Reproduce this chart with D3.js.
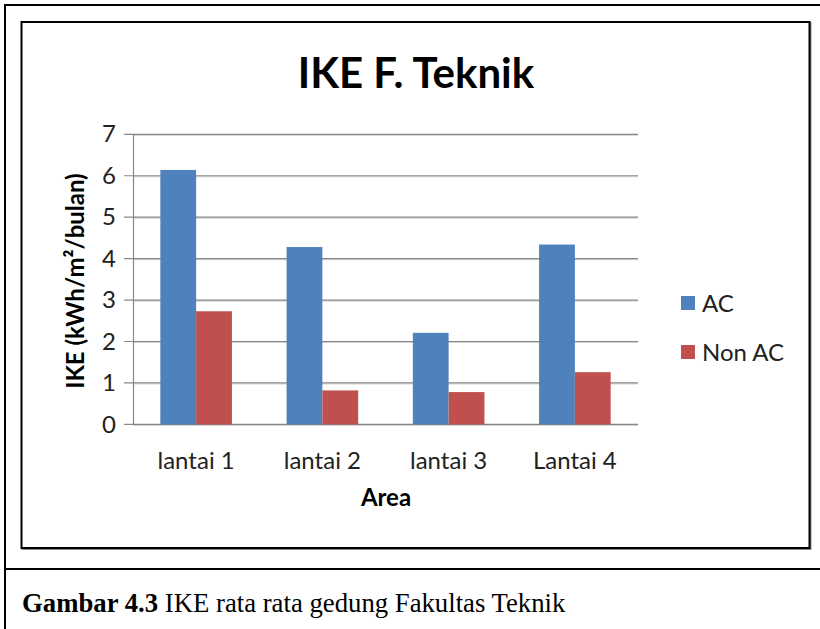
<!DOCTYPE html>
<html><head><meta charset="utf-8">
<script src="https://cdn.jsdelivr.net/npm/d3@7"></script>
<style>body{margin:0;background:#fff}svg{display:block}</style>
</head><body><svg id="c" width="820" height="629"></svg>
<script>
const categories = ["lantai 1", "lantai 2", "lantai 3", "Lantai 4"];
const seriesNames = ["AC", "Non AC"];
const acValues = [6.14, 4.28, 2.21, 4.34];
const nonAcValues = [2.73, 0.82, 0.78, 1.26];
const yTickValues = [0, 1, 2, 3, 4, 5, 6, 7];
const seriesColors = ["#4F81BD", "#C0504D"];
const chartTitle = "IKE F. Teknik";
const yTitle = "IKE (kWh/m²/bulan)";
const xTitle = "Area";
const captionBold = "Gambar 4.3";
const captionText = " IKE rata rata gedung Fakultas Teknik";

(function () {
const svg = d3.select("#c");
const sans = "Lato, 'Open Sans', sans-serif";

// frame
svg.append("line").attr("x1", 5).attr("y1", 5).attr("x2", 820).attr("y2", 5).attr("stroke", "#000").attr("stroke-width", 2);
svg.append("line").attr("x1", 5).attr("y1", 4).attr("x2", 5).attr("y2", 629).attr("stroke", "#000").attr("stroke-width", 2);
svg.append("line").attr("x1", 4).attr("y1", 569).attr("x2", 820).attr("y2", 569).attr("stroke", "#000").attr("stroke-width", 2);
svg.append("rect").attr("x", 22.5).attr("y", 23).attr("width", 788).attr("height", 526)
  .attr("fill", "none").attr("stroke", "#888").attr("stroke-width", 2);
svg.append("rect").attr("x", 21.5).attr("y", 22).attr("width", 788).attr("height", 526)
  .attr("fill", "#fff").attr("stroke", "#000").attr("stroke-width", 2);

const pL = 133, pR = 638, pT = 134.3, pB = 424.4;
const y = d3.scaleLinear().domain([0, 7]).range([pB, pT]);
const x0 = d3.scaleBand().domain(categories).range([pL, pR]).padding(0);
const x1 = d3.scaleBand().domain(seriesNames).range([0, x0.bandwidth()]).paddingInner(0).paddingOuter(0.763);

// gridlines
const grid = svg.append("g");
yTickValues.forEach(v => {
  grid.append("line").attr("x1", pL).attr("x2", pR).attr("y1", y(v) + 1).attr("y2", y(v) + 1).attr("stroke", "#d0d0d0").attr("stroke-width", 1);
  grid.append("line").attr("x1", pL - 9).attr("x2", pR).attr("y1", y(v)).attr("y2", y(v)).attr("stroke", "#878787").attr("stroke-width", 1.2);
});

// y axis
const yAxis = d3.axisLeft(y).tickValues(yTickValues).tickSize(0).tickPadding(17).tickFormat(d3.format("d"));
const gy = svg.append("g").attr("transform", `translate(${pL},0)`).call(yAxis);
gy.select(".domain").attr("stroke", "#878787").attr("stroke-width", 1.2);
gy.selectAll("text").attr("font-family", sans).attr("font-size", 24).attr("fill", "#222");

// bars
const data = categories.map((c, i) => ({cat: c, vals: [acValues[i], nonAcValues[i]]}));
const groups = svg.append("g").selectAll("g").data(data).join("g")
  .attr("transform", d => `translate(${x0(d.cat)},0)`);
groups.selectAll("rect").data(d => d.vals.map((v, j) => ({s: seriesNames[j], v, j})))
  .join("rect")
  .attr("x", d => x1(d.s)).attr("width", x1.bandwidth())
  .attr("y", d => y(d.v)).attr("height", d => y(0) - y(d.v))
  .attr("fill", d => seriesColors[d.j]);

// x axis labels
const xAxis = d3.axisBottom(x0).tickSize(0).tickPadding(28);
const gx = svg.append("g").attr("transform", `translate(0,${pB})`).call(xAxis);
gx.select(".domain").remove();
gx.selectAll("text").attr("font-family", sans).attr("font-size", 24).attr("fill", "#222");

// titles
svg.append("text").attr("x", 416).attr("y", 88).attr("text-anchor", "middle")
  .attr("font-family", sans).attr("font-weight", "bold").attr("font-size", 42).attr("fill", "#000").text(chartTitle);
svg.append("text").attr("transform", "translate(84,281) rotate(-90)").attr("text-anchor", "middle")
  .attr("font-family", sans).attr("font-weight", "bold").attr("font-size", 24).attr("fill", "#000").text(yTitle);
svg.append("text").attr("x", 386).attr("y", 506).attr("text-anchor", "middle")
  .attr("font-family", sans).attr("font-weight", "bold").attr("font-size", 24).attr("fill", "#000").text(xTitle);

// legend
const lg = svg.append("g").selectAll("g").data(seriesNames).join("g")
  .attr("transform", (d, i) => `translate(681,${296 + i * 49})`);
lg.append("rect").attr("width", 14).attr("height", 14).attr("fill", (d, i) => seriesColors[i]);
lg.append("text").attr("x", 21).attr("y", 7).attr("dy", "0.36em")
  .attr("font-family", sans).attr("font-size", 24).attr("fill", "#222").text(d => d);

// caption
const cap = svg.append("text").attr("transform", "translate(22,612) scale(0.955,1)")
  .attr("font-family", "'Liberation Serif', 'Times New Roman', serif").attr("font-size", 28).attr("fill", "#000");
cap.append("tspan").attr("font-weight", "bold").text(captionBold);
cap.append("tspan").text(captionText);
})();
</script></body></html>
